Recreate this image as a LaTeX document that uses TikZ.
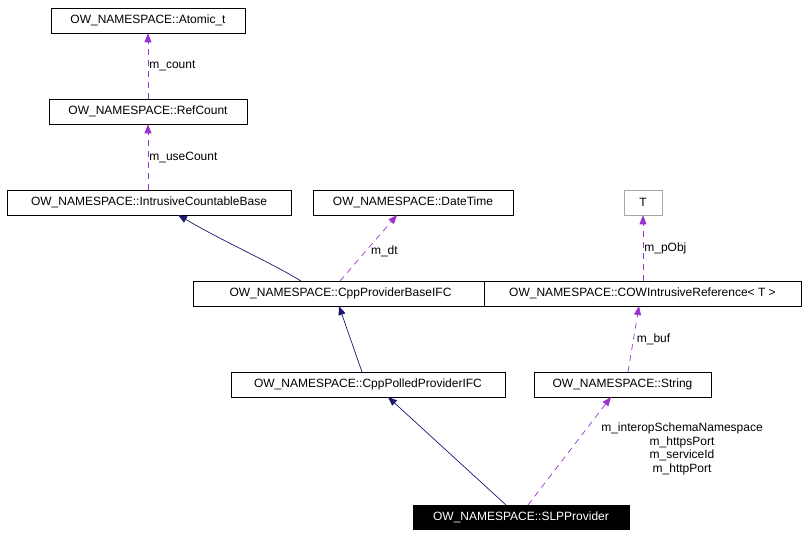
\documentclass[tikz,border=0pt]{standalone}
\usepackage{fontspec}
\setmainfont{Liberation Sans}
\usetikzlibrary{arrows.meta}
\definecolor{purp}{HTML}{9A32CD}
\definecolor{navyb}{HTML}{191970}
\begin{document}
\begin{tikzpicture}[x=1pt,y=-1pt,
  box/.style={draw=black,fill=white,line width=0.6pt,inner sep=0pt,minimum height=25pt,font=\fontsize{12}{14}\selectfont},
  mem/.style={draw=purp,dashed,dash pattern=on 6pt off 5pt,line width=0.7pt,-{Triangle[width=7pt,length=9pt,fill=purp]}},
  inh/.style={draw=navyb,line width=0.7pt,-{Triangle[width=7pt,length=9pt,fill=navyb]}},
  lbl/.style={font=\fontsize{12}{14}\selectfont,inner sep=1pt}]
\useasboundingbox (0,0) rectangle (808,536);
\node[box,minimum width=194pt] (atomic) at (148,20.5) {OW\_NAMESPACE::Atomic\_t};
\node[box,minimum width=198pt] (ref) at (148,111.5) {OW\_NAMESPACE::RefCount};
\node[box,minimum width=284pt] (icb) at (149,202.5) {OW\_NAMESPACE::IntrusiveCountableBase};
\node[box,minimum width=200pt] (dt) at (413,202.5) {OW\_NAMESPACE::DateTime};
\node[box,draw=gray!70,minimum width=38pt] (t) at (643,202.5) {T};
\node[box,minimum width=295pt] (cpb) at (340.5,293.5) {OW\_NAMESPACE::CppProviderBaseIFC};
\node[box,minimum width=317pt] (cow) at (642.5,293.5) {OW\_NAMESPACE::COWIntrusiveReference< T >};
\node[box,minimum width=274pt] (cpp) at (368,384.5) {OW\_NAMESPACE::CppPolledProviderIFC};
\node[box,minimum width=177pt] (str) at (622.5,384.5) {OW\_NAMESPACE::String};
\node[box,fill=black,text=white,minimum width=216pt,minimum height=24pt] (slp) at (521,517) {OW\_NAMESPACE::SLPProvider};

\draw[mem] (ref.north) -- (atomic.south) node[lbl,midway,right] {m\_count};
\draw[mem] (icb.north -| ref.south) -- (ref.south) node[lbl,midway,right] {m\_useCount};
\coordinate (a1) at (301,281); \coordinate (b1) at (178,215);
\draw[inh] (a1) .. controls (270,262) and (230,245) .. (b1);
\coordinate (a2) at (340,281); \coordinate (b2) at (397,215);
\draw[mem] (a2) -- (b2) node[lbl,pos=0.45,right=4pt] {m\_dt};
\draw[mem] (cow.north -| t.south) -- (t.south) node[lbl,midway,right] {m\_pObj};
\coordinate (a3) at (362,372); \coordinate (b3) at (339,306);
\draw[inh] (a3) -- (b3);
\coordinate (a4) at (628,372); \coordinate (b4) at (639,306);
\draw[mem] (a4) -- (b4) node[lbl,midway,right=2pt] {m\_buf};
\coordinate (a5) at (506,505); \coordinate (b5) at (388,397);
\draw[inh] (a5) -- (b5);
\coordinate (a6) at (528,505); \coordinate (b6) at (611,397);
\draw[mem] (a6) -- (b6);
\node[lbl,align=center,font=\fontsize{12}{13.5}\selectfont] (ml) at (682,449) {m\_interopSchemaNamespace\\m\_httpsPort\\m\_serviceId\\m\_httpPort};
\end{tikzpicture}
\end{document}
